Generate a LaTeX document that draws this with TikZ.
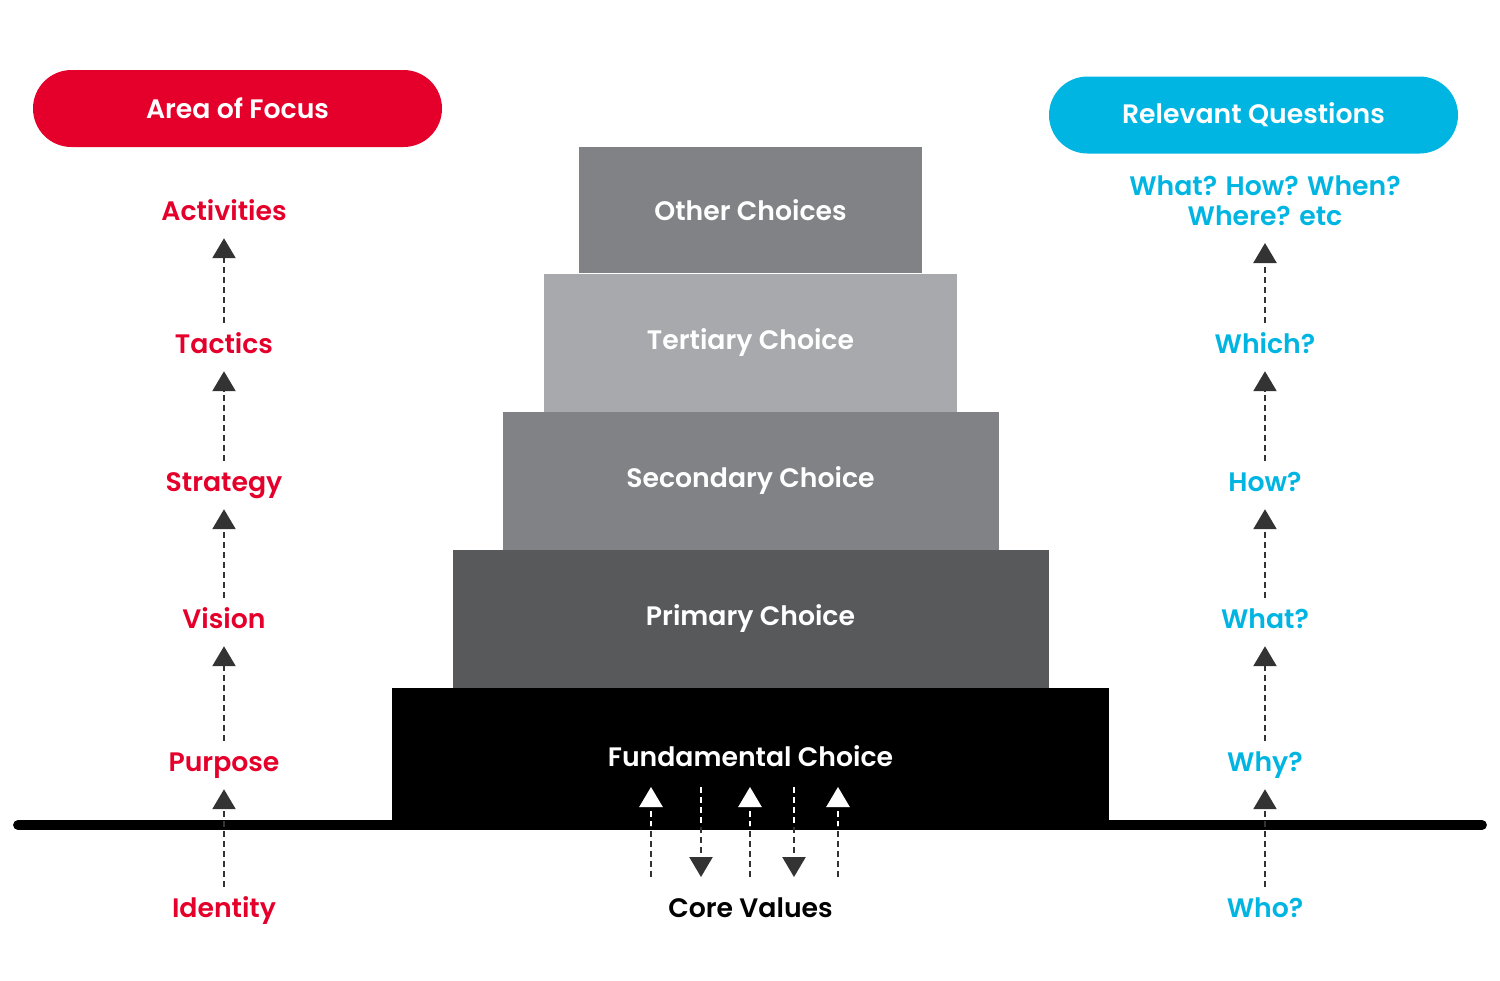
\documentclass[tikz,border=0pt]{standalone}
\usepackage{fontspec}
\setmainfont{Poppins}[BoldFont=Poppins SemiBold]
\usetikzlibrary{positioning,arrows.meta,calc}
\definecolor{cfocus}{HTML}{E4002B}
\definecolor{cquest}{HTML}{00B5E2}
\definecolor{tlight}{HTML}{A7A9AC}
\definecolor{tmid}{HTML}{808285}
\definecolor{tdark}{HTML}{58595B}
\colorlet{cdash}{black!80}
\tikzset{
  pill/.style={fill=#1, rounded corners=0.385cm, minimum width=4.09cm, minimum height=0.77cm,
               text=white, font=\bfseries\fontsize{7.6}{9}\selectfont, inner sep=0pt},
  tier/.style={fill=#1, text=white, font=\bfseries\fontsize{7.6}{9}\selectfont, inner sep=0pt},
  lbltxt/.style={text=#1, font=\bfseries\fontsize{7.6}{8.5}\selectfont, inner sep=0pt, align=center},
  lbl/.style={lbltxt=#1, text height=2.0mm, text depth=0.5mm},
  flow/.style={-{Triangle[length=2mm,width=2.3mm]}, line width=0.7pt, draw=#1,
               dash pattern=on 0.6mm off 0.4mm, shorten <=0.1cm, shorten >=0.12cm},
  flow/.default=cdash,
  ground/.style={line width=2.8pt, line cap=round},
}
\begin{document}
\begin{tikzpicture}[x=1cm, y=1cm]
\useasboundingbox (0,0) rectangle (15,-9.8);

% headers
\node[pill=cfocus] (focus) at (2.375,-1.085) {Area of Focus};
\node[pill=cquest] (quest) at (12.535,-1.15) {Relevant Questions};

% stack of choices, top to bottom
\foreach \n/\y/\w/\h/\c/\t in {
  5/-2.10/3.43/1.26/tmid/Other Choices,
  4/-3.43/4.13/1.38/tlight/Tertiary Choice,
  3/-4.81/4.96/1.38/tmid/Secondary Choice,
  2/-6.19/5.96/1.38/tdark/Primary Choice,
  1/-7.565/7.17/1.37/black/Fundamental Choice}
  \node[tier=\c, minimum width=\w cm, minimum height=\h cm] (t\n) at (7.505,\y) {\t};

% ground line
\draw[ground] (0.18,-8.25) -- (14.82,-8.25);

% left column: area of focus
\foreach \i/\y/\t in {1/-9.10/Identity, 2/-7.64/Purpose, 3/-6.21/Vision,
                      4/-4.84/Strategy, 5/-3.46/Tactics, 6/-2.13/Activities}
  \node[lbl=cfocus] (f\i) at (2.24,\y) {\t};

% right column: relevant questions
\foreach \i/\y/\t in {1/-9.10/Who?, 2/-7.64/Why?, 3/-6.21/What?,
                      4/-4.84/How?, 5/-3.46/Which?}
  \node[lbl=cquest] (q\i) at (12.65,\y) {\t};
\node[lbltxt=cquest, text depth=0.5mm, anchor=south] (q6) at (12.65,-2.31) {What? How? When?\\Where? etc};

\foreach \i [evaluate=\i as \j using int(\i+1)] in {1,...,5} {
  \draw[flow] (f\i.north) -- (f\j.south);
  \draw[flow] (q\i.north) -- (q\j.south);
}

% core values
\node[lbl=black] (core) at (7.505,-9.10) {Core Values};
\foreach \k/\x in {1/6.51, 2/7.01, 3/7.50, 4/7.94, 5/8.38} {
  \coordinate (cv\k a) at (\x,-8.77);
  \coordinate (cv\k b) at (\x,-7.87);
}
\foreach \k in {1,3,5} {
  \draw[flow, shorten <=0pt, shorten >=0pt] (cv\k a) -- (cv\k b);
  \begin{scope}
    \clip (t1.south west) rectangle (t1.north east);
    \draw[flow=white, shorten <=0pt, shorten >=0pt] (cv\k a) -- (cv\k b);
  \end{scope}
}
\foreach \k in {2,4} {
  \draw[flow, shorten <=0pt, shorten >=0pt] (cv\k b) -- (cv\k a);
  \begin{scope}
    \clip (t1.south west) rectangle (t1.north east);
    \draw[white, line width=0.7pt, dash pattern=on 0.6mm off 0.4mm] (cv\k b) -- (cv\k a);
  \end{scope}
}
\end{tikzpicture}
\end{document}
